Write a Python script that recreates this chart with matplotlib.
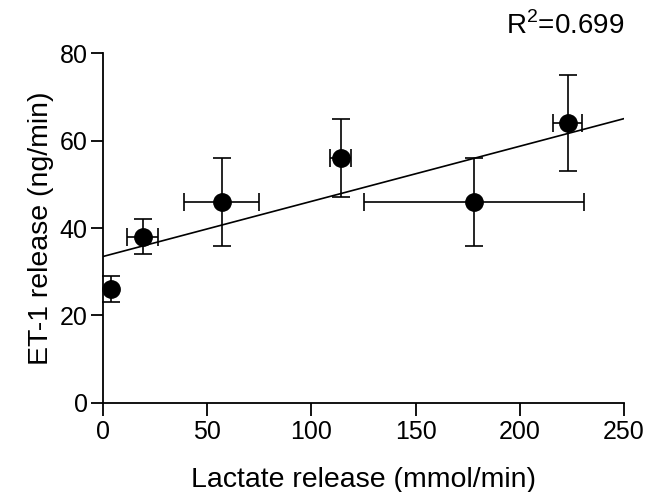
import numpy as np
import matplotlib
matplotlib.use("Agg")
import matplotlib.pyplot as plt

# Lactate vs ET-1 release (mean +/- error)
lactate = [4, 19, 57, 114, 178, 223]
lactate_err = [0, 7.5, 18, 5, 53, 7]
et1 = [26, 38, 46, 56, 46, 64]
et1_err = [3, 4, 10, 9, 10, 11]

plt.rcParams["font.family"] = ["Liberation Sans", "DejaVu Sans"]

fig = plt.figure(figsize=(6.48, 4.92), dpi=100)
ax = fig.add_axes([0.159, 0.181, 0.804, 0.711])

ax.errorbar(lactate, et1, xerr=lactate_err, yerr=et1_err, fmt="o", color="black",
            markersize=12.5, elinewidth=1.2, capsize=6.5, capthick=1.2, zorder=3,
            clip_on=False)

# linear regression
x = np.array(lactate, dtype=float)
y = np.array(et1, dtype=float)
slope, intercept = np.polyfit(x, y, 1)
r2 = np.corrcoef(x, y)[0, 1] ** 2
xl = np.array([0, 250])
ax.plot(xl, slope * xl + intercept, color="black", lw=1.2, zorder=2)

ax.set_xlim(0, 250)
ax.set_ylim(0, 80)
ax.set_xticks([0, 50, 100, 150, 200, 250])
ax.set_yticks([0, 20, 40, 60, 80])
for s in ["top", "right"]:
    ax.spines[s].set_visible(False)
for s in ["left", "bottom"]:
    ax.spines[s].set_linewidth(1.3)
ax.tick_params(direction="out", length=9, width=1.3, labelsize=18)
ax.tick_params(axis="x", pad=3.5)
ax.tick_params(axis="y", pad=2)
ax.set_xlabel("Lactate release (mmol/min)", fontsize=20.5)
ax.xaxis.label.set_va("baseline")
ax.xaxis.set_label_coords(0.5, -0.24)
ax.set_ylabel("ET-1 release (ng/min)", fontsize=20.5, labelpad=4)

ax.text(1.0, 1.054, "R$^\\mathregular{2}$=%.3f" % r2, transform=ax.transAxes,
        ha="right", va="baseline", fontsize=20)

fig.savefig("out.png", dpi=100)
